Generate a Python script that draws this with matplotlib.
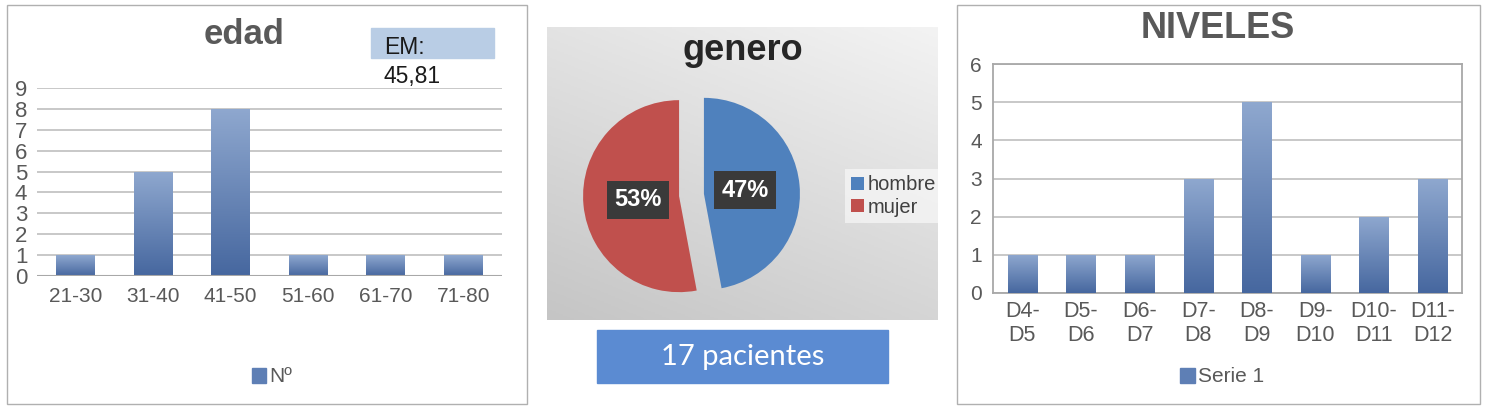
import matplotlib
matplotlib.use("Agg")
import matplotlib.pyplot as plt
import numpy as np
from matplotlib.colors import LinearSegmentedColormap
from matplotlib.patches import Rectangle, Patch

plt.rcParams['font.family'] = ['Liberation Sans', 'DejaVu Sans']

# data
edad_cats = ["21-30", "31-40", "41-50", "51-60", "61-70", "71-80"]
edad_vals = [1, 5, 8, 1, 1, 1]
edad_media = "45,81"

genero_labels = ["hombre", "mujer"]
genero_vals = [8, 9]
n_pacientes = 17

nivel_cats = ["D4-\nD5", "D5-\nD6", "D6-\nD7", "D7-\nD8", "D8-\nD9",
              "D9-\nD10", "D10-\nD11", "D11-\nD12"]
nivel_vals = [1, 1, 1, 3, 5, 1, 2, 3]

W, H = 1488, 412
GRAY_TXT = "#595959"
GRID = "#c4c4c4"
BAR_TOP, BAR_BOT, BAR_MID = "#8fa8cf", "#46679f", "#5e7fb5"


def box(x0, y0, x1, y1):
    # pixel box (top-left origin) -> figure fraction rect
    return [x0 / W, 1 - y1 / H, (x1 - x0) / W, (y1 - y0) / H]


def fx(x):
    return x / W


def fy(y):
    return 1 - y / H


def gradient_bars(ax, bars):
    cmap = LinearSegmentedColormap.from_list("bar", [BAR_BOT, BAR_TOP])
    grad = np.linspace(0, 1, 256).reshape(-1, 1)
    for b in bars:
        x, y = b.get_xy()
        w, h = b.get_width(), b.get_height()
        im = ax.imshow(grad, cmap=cmap, extent=(x, x + w, y, y + h),
                       origin="lower", aspect="auto", zorder=3)
        im.set_clip_path(b)


fig = plt.figure(figsize=(W / 100, H / 100), dpi=100)

# panel frames
for x0, x1 in [(7, 527), (957, 1480)]:
    fig.patches.append(Rectangle((fx(x0), fy(404)), (x1 - x0) / W, (404 - 5) / H,
                                 transform=fig.transFigure, fill=False,
                                 ec="#b0b0b0", lw=1.0))

# ---------------- edad ----------------
ax1 = fig.add_axes(box(37, 88, 502, 276))
x1 = np.arange(len(edad_cats))
bars1 = ax1.bar(x1, edad_vals, width=0.5, color=BAR_MID, zorder=2, label="Nº")
gradient_bars(ax1, bars1)
ax1.set_xlim(-0.5, len(edad_cats) - 0.5)
ax1.set_ylim(0, 9)
ax1.set_yticks(range(10))
ax1.set_xticks(x1)
ax1.set_xticklabels(edad_cats)
ax1.tick_params(axis="both", length=0, labelcolor=GRAY_TXT)
ax1.tick_params(axis="y", pad=7, labelsize=16)
ax1.tick_params(axis="x", pad=8, labelsize=15)
for s in ax1.spines.values():
    s.set_visible(False)
ax1.grid(axis="y", color=GRID, lw=1.3, zorder=1)
ax1.axhline(0, color="#a8a8a8", lw=1.5, zorder=4)
ax1.legend(handles=[Patch(color=BAR_MID, label="Nº")], loc="center",
           bbox_to_anchor=(fx(272), fy(377)), bbox_transform=fig.transFigure,
           frameon=False, fontsize=15, handlelength=0.7, handleheight=0.7,
           handletextpad=0.15, labelcolor=GRAY_TXT)
fig.text(fx(244), fy(34), "edad", ha="center", va="center", fontsize=25,
         fontweight="bold", color=GRAY_TXT)
fig.patches.append(Rectangle((fx(371), fy(58)), (494 - 371) / W, 30 / H,
                             transform=fig.transFigure, color="#b9cde5"))
fig.text(fx(384), fy(48), "EM:", ha="left", va="center", fontsize=16.5, color="#1a1a1a")
fig.text(fx(384), fy(76), edad_media, ha="left", va="center", fontsize=16.5, color="#1a1a1a")

# ---------------- genero ----------------
bg = fig.add_axes(box(547, 27, 938, 320))
yy, xx = np.mgrid[0:1:200j, 0:1:300j]
val = 0.65 * (1 - yy) + 0.35 * xx
bg_cmap = LinearSegmentedColormap.from_list("bg", ["#c5c5c5", "#f3f3f3"])
bg.imshow(val, cmap=bg_cmap, aspect="auto", extent=(0, 1, 0, 1), origin="upper")
bg.axis("off")

R = 96.0
half = 130.0
axp = fig.add_axes(box(691.5 - half, 195 - half, 691.5 + half, 195 + half))
axp.patch.set_alpha(0)
wedges, texts, autotexts = axp.pie(
    genero_vals, colors=["#4f81bd", "#c0504d"], startangle=90, counterclock=False,
    explode=[0.13, 0.13], autopct="%1.0f%%", pctdistance=0.43,
    textprops=dict(color="white", fontsize=17, fontweight="bold"))
for t in autotexts:
    t.set_bbox(dict(boxstyle="square,pad=0.3", fc="#3a3a3a", ec="none"))
axp.set_xlim(-half / R, half / R)
axp.set_ylim(-half / R, half / R)
axp.set_aspect("equal")
axp.axis("off")
leg = axp.legend(wedges, genero_labels, loc="center left",
                 bbox_to_anchor=(fx(835), fy(196)), bbox_transform=fig.transFigure,
                 fontsize=14.5, handlelength=0.65, handleheight=0.65,
                 handletextpad=0.15, labelspacing=0.15, borderpad=0.3,
                 fancybox=False, framealpha=0.55, edgecolor="none",
                 labelcolor="#404040")
fig.text(fx(743), fy(50), "genero", ha="center", va="center", fontsize=26,
         fontweight="bold", color="#262626")

fig.patches.append(Rectangle((fx(597), fy(383)), (888 - 597) / W, (383 - 330) / H,
                             transform=fig.transFigure, color="#5b8bd2"))
fig.text(fx(743), fy(357), f"{n_pacientes} pacientes", ha="center", va="center",
         fontsize=21, color="white", family=["Lato", "DejaVu Sans"])

# ---------------- NIVELES ----------------
ax3 = fig.add_axes(box(993, 64, 1462, 293))
x3 = np.arange(len(nivel_cats))
bars3 = ax3.bar(x3, nivel_vals, width=0.5, color=BAR_MID, zorder=2)
gradient_bars(ax3, bars3)
ax3.set_xlim(-0.5, len(nivel_cats) - 0.5)
ax3.set_ylim(0, 6)
ax3.set_yticks(range(7))
ax3.set_xticks(x3)
ax3.set_xticklabels(nivel_cats, linespacing=1.15)
ax3.tick_params(axis="both", length=0, labelcolor=GRAY_TXT)
ax3.tick_params(axis="y", labelsize=15, pad=8)
ax3.tick_params(axis="x", labelsize=15.5, pad=6)
for s in ax3.spines.values():
    s.set_color("#a8a8a8")
    s.set_linewidth(1.3)
ax3.grid(axis="y", color=GRID, lw=1.3, zorder=1)
ax3.legend(handles=[Patch(color=BAR_MID, label="Serie 1")], loc="center",
           bbox_to_anchor=(fx(1222), fy(377)), bbox_transform=fig.transFigure,
           frameon=False, fontsize=15, handlelength=0.7, handleheight=0.7,
           handletextpad=0.15, labelcolor=GRAY_TXT)
fig.text(fx(1218), fy(29), "NIVELES", ha="center", va="center", fontsize=26,
         fontweight="bold", color=GRAY_TXT)

fig.savefig("out.png", dpi=100)
